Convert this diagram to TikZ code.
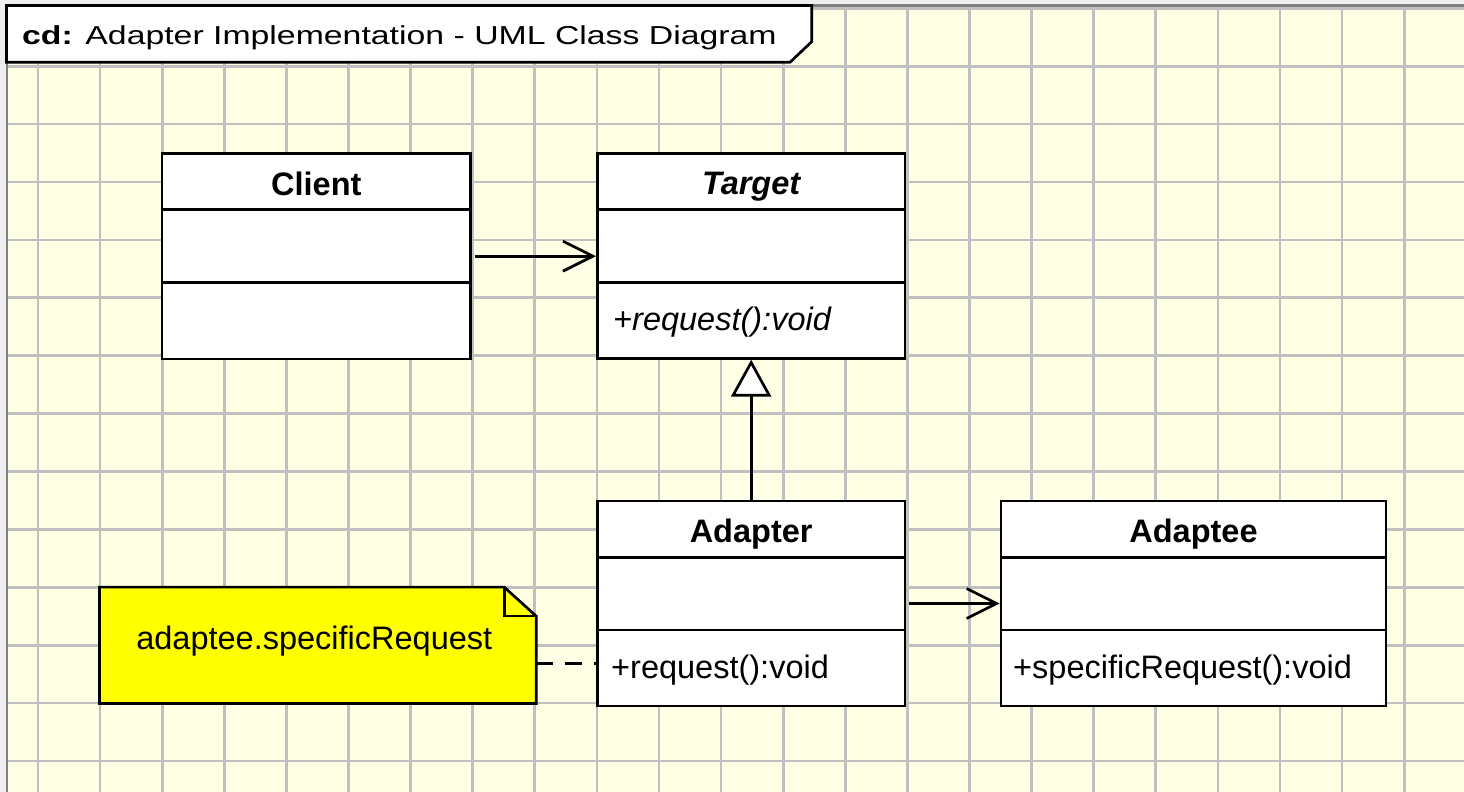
\documentclass[tikz,border=0pt]{standalone}
\usepackage{graphicx}
\usepackage{fontspec}
\setmainfont{Liberation Sans}
\usetikzlibrary{arrows.meta,calc}
\definecolor{bgyellow}{RGB}{255,255,229}
\definecolor{gridgray}{RGB}{192,192,192}
\definecolor{framegray}{RGB}{128,128,128}
\definecolor{outergray}{RGB}{238,238,238}
\definecolor{noteyellow}{RGB}{255,255,0}
\newcommand\myclsfont{\fontsize{32.5}{39}\selectfont}
\newcommand\mytitlefont{\fontsize{26}{30}\selectfont}
\begin{document}
\begin{tikzpicture}[x=1pt,y=-1pt,
  gridline/.style={draw=gridgray, line width=2.7pt},
  classbox/.style={draw=black, fill=white, line width=2.7pt, inner sep=0pt},
  divider/.style={draw=black, line width=2.7pt},
  clsname/.style={anchor=base, inner sep=0pt, font=\myclsfont\bfseries},
  clsop/.style={anchor=base west, inner sep=0pt, font=\myclsfont},
  assoc/.style={draw=black, line width=2.7pt, -{Straight Barb[length=30pt,width=30pt]}},
  gen/.style={draw=black, line width=2.7pt, -{Triangle[length=37pt,width=40pt,fill=white]}},
  notebox/.style={draw=black, fill=noteyellow, line width=2.7pt},
  notelink/.style={draw=black, line width=2.7pt, dash pattern=on 17pt off 12pt},
  frameline/.style={draw=framegray, line width=2.6pt}
]
\useasboundingbox (0,0) rectangle (1464,792);
% background
\fill[outergray] (0,0) rectangle (1464,792);
\fill[bgyellow] (7,6) rectangle (1464,792);
\foreach \k in {0,...,22} {
  \draw[gridline] ({38+62.1*\k},6) -- ({38+62.1*\k},792);
}
\foreach \k in {0,...,13} {
  \draw[gridline] (7,{8.3+57.9*\k}) -- (1464,{8.3+57.9*\k});
}
\draw[frameline] (7,792) -- (7,5.4) -- (1464,5.4);
% title frame
\filldraw[draw=black, fill=white, line width=2.7pt]
  (6.5,5.5) -- (811.7,5.5) -- (811.7,41.7) -- (790,62.3) -- (6.5,62.3) -- cycle;
\node[anchor=base west, inner sep=0pt] (title) at (22,45)
  {\scalebox{1.3}[1]{\mytitlefont\textbf{cd:} Adapter Implementation - UML Class Diagram}};

% classes
\node[classbox, minimum width=308.7pt, minimum height=205.7pt] (client) at (316.35,256.15) {};
\node[classbox, minimum width=307.7pt, minimum height=205pt] (target) at (751.15,255.8) {};
\node[classbox, minimum width=307.7pt, minimum height=205pt] (adapter) at (751.15,603.5) {};
\node[classbox, minimum width=385pt, minimum height=205pt] (adaptee) at (1193.5,603.5) {};
\foreach \c in {client,target,adapter,adaptee} {
  \draw[divider] ($(\c.north west)+(0,57.6)$) -- ($(\c.north east)+(0,57.6)$);
  \draw[divider] ($(\c.north west)+(0,130.2)$) -- ($(\c.north east)+(0,130.2)$);
}
\node[clsname] (clientname) at (316.35,195) {Client};
\node[clsname, font=\myclsfont\bfseries\itshape] (targetname) at (751.15,194.5) {Target};
\node[clsop, font=\myclsfont\itshape] (targetop) at (613,330) {+request():void};
\node[clsname] (adaptername) at (751.15,542.7) {Adapter};
\node[clsop] (adapterop) at (611,678.3) {+request():void};
\node[clsname] (adapteename) at (1193.5,542) {Adaptee};
\node[clsop] (adapteeop) at (1013,678.3) {+specificRequest():void};

% note
\node[minimum width=436.4pt, minimum height=116pt, inner sep=0pt] (note) at (317.8,645.3) {};
\filldraw[notebox] (note.north west) -- ($(note.north east)+(-32,0)$) -- ($(note.north east)+(0,29)$)
  -- (note.south east) -- (note.south west) -- cycle;
\draw[notebox, fill=none] ($(note.north east)+(-32,0)$) -- ($(note.north east)+(-32,29)$) -- ($(note.north east)+(0,29)$);
\node[anchor=base, inner sep=0pt, font=\myclsfont] (notetext) at (314.3,649.3) {adaptee.specificRequest};

% connectors
\draw[assoc] ($(client.east)+(3,0)$) -- (target.west |- client.east);
\draw[assoc] ($(adapter.east)+(3,0)$) -- (adaptee.west |- adapter.east);
\draw[gen] (adapter.north) -- (target.south);
\coordinate (n1) at ($(note.east)+(0,18)$);
\draw[notelink] (n1) -- (n1 -| adapter.west);
\end{tikzpicture}
\end{document}
